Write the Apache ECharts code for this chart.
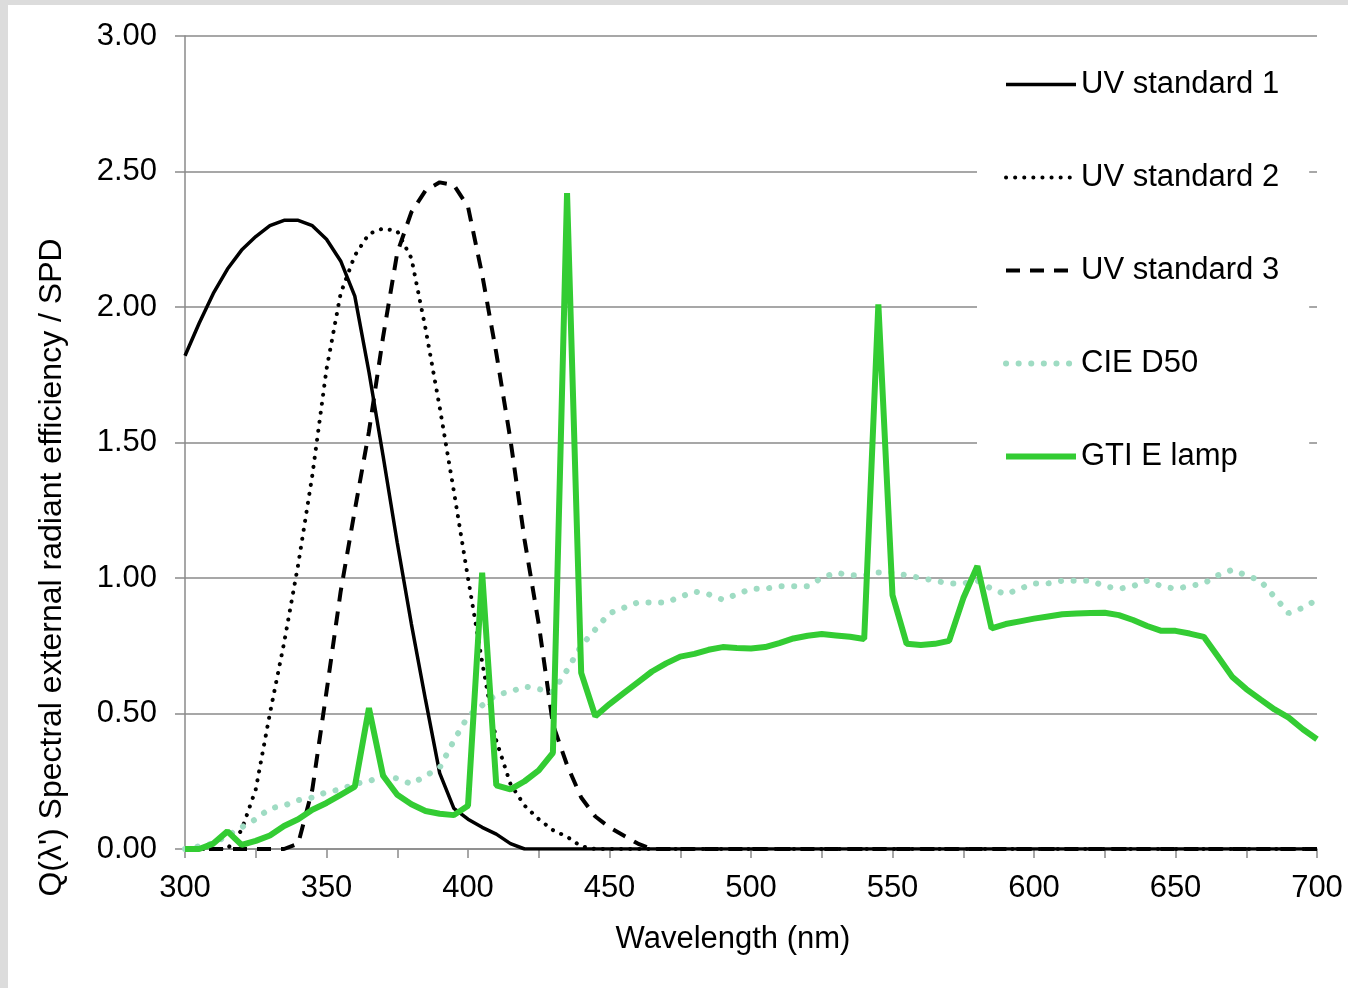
<!DOCTYPE html>
<html>
<head>
<meta charset="utf-8">
<title>Spectral external radiant efficiency</title>
<script src="https://cdn.jsdelivr.net/npm/echarts@6/dist/echarts.min.js"></script>
<style>
	body {
		margin: 0;
		background: #dcdcdc;
	}
	#chart {
		position: absolute;
		left: 8px;
		top: 5px;
		width: 1340px;
		height: 983px;
		background: #fff;
	}
</style>
</head>
<body>
<div id="chart"></div>
<script>
	// wavelength (nm), every 5 nm
	var wavelength = [300, 305, 310, 315, 320, 325, 330, 335, 340, 345, 350, 355, 360, 365, 370, 375, 380, 385, 390, 395,
		400, 405, 410, 415, 420, 425, 430, 435, 440, 445, 450, 455, 460, 465, 470, 475, 480, 485, 490, 495,
		500, 505, 510, 515, 520, 525, 530, 535, 540, 545, 550, 555, 560, 565, 570, 575, 580, 585, 590, 595,
		600, 605, 610, 615, 620, 625, 630, 635, 640, 645, 650, 655, 660, 665, 670, 675, 680, 685, 690, 695, 700];

	var uvStandard1 = [1.82, 1.94, 2.05, 2.14, 2.21, 2.26, 2.30, 2.32, 2.32, 2.30, 2.25, 2.17, 2.04, 1.76, 1.45, 1.13, 0.83, 0.55, 0.28, 0.15,
		0.11, 0.08, 0.055, 0.02, 0, 0, 0, 0, 0, 0, 0, 0, 0, 0, 0, 0, 0, 0, 0, 0,
		0, 0, 0, 0, 0, 0, 0, 0, 0, 0, 0, 0, 0, 0, 0, 0, 0, 0, 0, 0,
		0, 0, 0, 0, 0, 0, 0, 0, 0, 0, 0, 0, 0, 0, 0, 0, 0, 0, 0, 0, 0];

	var uvStandard2 = [0, 0, 0, 0, 0.07, 0.22, 0.50, 0.76, 1.05, 1.38, 1.77, 2.05, 2.19, 2.27, 2.29, 2.28, 2.18, 1.92, 1.63, 1.32,
		1.00, 0.69, 0.40, 0.24, 0.16, 0.11, 0.07, 0.045, 0.01, 0, 0, 0, 0, 0, 0, 0, 0, 0, 0, 0,
		0, 0, 0, 0, 0, 0, 0, 0, 0, 0, 0, 0, 0, 0, 0, 0, 0, 0, 0, 0,
		0, 0, 0, 0, 0, 0, 0, 0, 0, 0, 0, 0, 0, 0, 0, 0, 0, 0, 0, 0, 0];

	var uvStandard3 = [0, 0, 0, 0, 0, 0, 0, 0, 0.02, 0.22, 0.58, 0.95, 1.25, 1.54, 1.89, 2.20, 2.35, 2.43, 2.46, 2.45,
		2.37, 2.12, 1.83, 1.51, 1.14, 0.83, 0.46, 0.31, 0.19, 0.12, 0.08, 0.05, 0.02, 0, 0, 0, 0, 0, 0, 0,
		0, 0, 0, 0, 0, 0, 0, 0, 0, 0, 0, 0, 0, 0, 0, 0, 0, 0, 0, 0,
		0, 0, 0, 0, 0, 0, 0, 0, 0, 0, 0, 0, 0, 0, 0, 0, 0, 0, 0, 0, 0];

	var cieD50 = [0.00, 0.01, 0.02, 0.05, 0.08, 0.11, 0.15, 0.16, 0.18, 0.19, 0.21, 0.22, 0.24, 0.25, 0.27, 0.26, 0.24, 0.27, 0.30, 0.40,
		0.49, 0.53, 0.57, 0.58, 0.60, 0.59, 0.58, 0.66, 0.75, 0.81, 0.87, 0.89, 0.91, 0.91, 0.91, 0.93, 0.95, 0.94, 0.92, 0.94,
		0.96, 0.96, 0.97, 0.97, 0.97, 1.00, 1.02, 1.01, 1.01, 1.02, 1.02, 1.01, 1.00, 0.99, 0.98, 0.98, 0.99, 0.96, 0.94, 0.96,
		0.98, 0.98, 0.99, 0.99, 0.99, 0.97, 0.96, 0.97, 0.99, 0.97, 0.96, 0.97, 0.98, 1.01, 1.03, 1.01, 0.99, 0.93, 0.87, 0.89, 0.92];

	var gtiELamp = [0.00, 0.00, 0.02, 0.065, 0.015, 0.03, 0.05, 0.085, 0.11, 0.145, 0.17, 0.20, 0.23, 0.52, 0.27, 0.20, 0.165, 0.14, 0.13, 0.125,
		0.16, 1.02, 0.235, 0.22, 0.25, 0.29, 0.355, 2.42, 0.65, 0.49, 0.535, 0.575, 0.615, 0.655, 0.685, 0.71, 0.72, 0.735, 0.745, 0.742,
		0.74, 0.745, 0.76, 0.777, 0.787, 0.793, 0.788, 0.783, 0.775, 2.01, 0.937, 0.757, 0.753, 0.757, 0.768, 0.925, 1.044, 0.814, 0.83, 0.84,
		0.85, 0.858, 0.866, 0.869, 0.871, 0.872, 0.863, 0.845, 0.823, 0.805, 0.805, 0.795, 0.783, 0.71, 0.636, 0.59, 0.552, 0.515, 0.485, 0.442, 0.405];

	var seriesNames = ['UV standard 1', 'UV standard 2', 'UV standard 3', 'CIE D50', 'GTI E lamp'];

	function pairs(values) {
		var out = [];
		wavelength.forEach(function(w, i) {
			out.push([w, values[i]]);
		});
		return out;
	}

	var font = "'Liberation Sans', Arial, sans-serif";
	var gray = '#8a8a8a';

	// line styles, shared by the series and their legend entries
	var styles = [
		{ color: '#000', width: 3.5, type: 'solid' },
		{ color: '#000', width: 4, type: [0.1, 9], cap: 'round' },
		{ color: '#000', width: 4, type: [14, 10] },
		{ color: '#9fdcc3', width: 6, type: [0.1, 12.5], cap: 'round' },
		{ color: '#33cc33', width: 6, type: 'solid' }
	];
	var datasets = [uvStandard1, uvStandard2, uvStandard3, cieD50, gtiELamp];

	var myChart = echarts.init(document.getElementById('chart'));
	myChart.setOption({
		animation: false,
		textStyle: {
			fontFamily: font
		},
		grid: {
			left: 177,
			right: 31,
			top: 31,
			bottom: 139
		},
		legend: {
			orient: 'vertical',
			left: 969,
			top: 32,
			padding: [32, 30, 30, 26],
			backgroundColor: '#fff',
			itemWidth: 70,
			itemHeight: 30,
			itemGap: 62,
			itemStyle: { opacity: 0 },
			data: seriesNames.map(function(n, i) {
				return { name: n, lineStyle: styles[i] };
			}),
			textStyle: {
				fontFamily: font,
				fontSize: 31,
				color: '#000'
			}
		},
		xAxis: {
			type: 'value',
			min: 300,
			max: 700,
			interval: 25,
			name: 'Wavelength (nm)',
			nameLocation: 'middle',
			nameGap: 75,
			nameTextStyle: {
				fontFamily: font,
				fontSize: 31,
				color: '#000',
				padding: [0, 36, 0, 0]
			},
			axisLine: {
				lineStyle: { color: gray, width: 1.5 }
			},
			axisTick: {
				length: 9,
				lineStyle: { color: gray, width: 1.5 }
			},
			axisLabel: {
				margin: 24,
				fontFamily: font,
				fontSize: 31,
				color: '#000',
				formatter: function(v) {
					return v % 50 === 0 ? String(v) : '';
				}
			},
			splitLine: { show: false }
		},
		yAxis: {
			type: 'value',
			min: 0,
			max: 3,
			interval: 0.5,
			name: "Q(λ') Spectral external radiant efficiency / SPD",
			nameLocation: 'middle',
			nameGap: 117,
			nameTextStyle: {
				fontFamily: font,
				fontSize: 32,
				color: '#000',
				padding: [0, 250, 0, 0]
			},
			axisLine: {
				show: true,
				lineStyle: { color: gray, width: 1.5 }
			},
			axisTick: {
				show: true,
				length: 10,
				lineStyle: { color: gray, width: 1.5 }
			},
			axisLabel: {
				margin: 28,
				fontFamily: font,
				fontSize: 31,
				color: '#000',
				formatter: function(v) {
					return v.toFixed(2);
				}
			},
			splitLine: {
				lineStyle: { color: gray, width: 1.5 }
			}
		},
		series: seriesNames.map(function(n, i) {
			return {
				name: n,
				type: 'line',
				symbol: 'none',
				data: pairs(datasets[i]),
				itemStyle: { color: styles[i].color },
				lineStyle: styles[i]
			};
		})
	});
</script>
</body>
</html>
